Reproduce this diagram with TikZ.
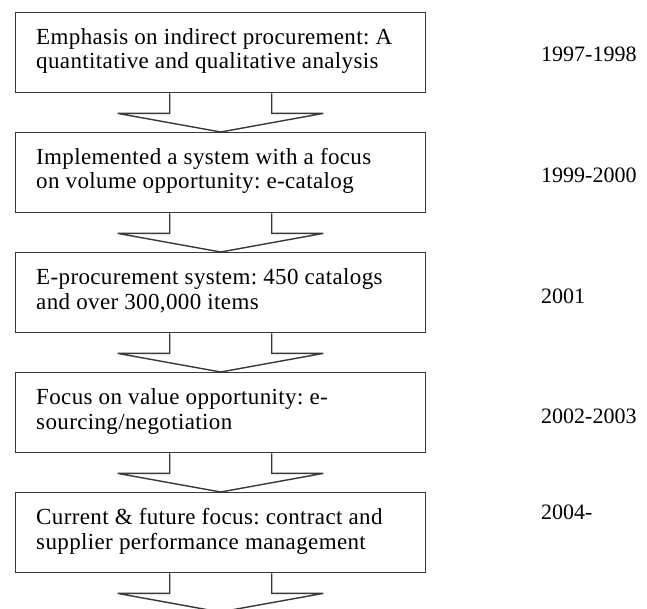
\documentclass[tikz,border=0pt]{standalone}
\usepackage{fontspec}
\setmainfont{Liberation Serif}
\newfontfamily\stagefont[LetterSpace=1.6]{Liberation Serif}
\usetikzlibrary{calc}
\frenchspacing
\begin{document}
\begin{tikzpicture}[x=1bp,y=-1bp,
  stagebox/.style={draw=black!78, line width=1.4bp, fill=white, rectangle,
    anchor=north west, minimum width=410bp, minimum height=80bp, inner sep=0pt},
  stagetext/.style={anchor=base west, inner sep=0pt, align=left,
    font=\stagefont\fontsize{23bp}{24.5bp}\selectfont},
  yearlabel/.style={anchor=base west, inner sep=0pt,
    font=\fontsize{22bp}{24bp}\selectfont},
  flowarrow/.style={draw=black!78, line width=1.4bp, fill=white, line join=miter}]
\useasboundingbox (0,0) rectangle (647,609);

% the five stages, top to bottom
\node[stagebox] (s1) at (15,12)  {};
\node[stagebox] (s2) at (15,132) {};
\node[stagebox] (s3) at (15,252) {};
\node[stagebox] (s4) at (15,372) {};
\node[stagebox] (s5) at (15,492) {};
\coordinate (tail) at (220,612);

% block arrows between stages
\foreach \a/\b in {s1/s2, s2/s3, s3/s4, s4/s5, s5/tail}{
  \path[flowarrow] ($(\a.south)+(-51,0)$) -- ++(0,20) -- ++(-52,0) -- (\b.north)
     -- ($(\a.south)+(102.5,20)$) -- ++(-51.5,0) -- ++(0,-20);
}

% stage descriptions (anchored on the baseline of their second line)
\node[stagetext] (t1) at ($(s1.north west)+(21,57)$) {Emphasis on indirect procurement: A\\quantitative and qualitative analysis};
\node[stagetext] (t2) at ($(s2.north west)+(21,57)$) {Implemented a system with a focus\\on volume opportunity: e-catalog};
\node[stagetext] (t3) at ($(s3.north west)+(21,57)$) {E-procurement system: 450 catalogs\\and over 300,000 items};
\node[stagetext] (t4) at ($(s4.north west)+(21,57)$) {Focus on value opportunity: e-\\sourcing/negotiation};
\node[stagetext] (t5) at ($(s5.north west)+(21,57)$) {Current \& future focus: contract and\\supplier performance management};

% period of each stage
\node[yearlabel] (y1) at (541,62)  {1997-1998};
\node[yearlabel] (y2) at (541,183) {1999-2000};
\node[yearlabel] (y3) at (541,303) {2001};
\node[yearlabel] (y4) at (541,423) {2002-2003};
\node[yearlabel] (y5) at (541,519) {2004-};
\end{tikzpicture}
\end{document}
